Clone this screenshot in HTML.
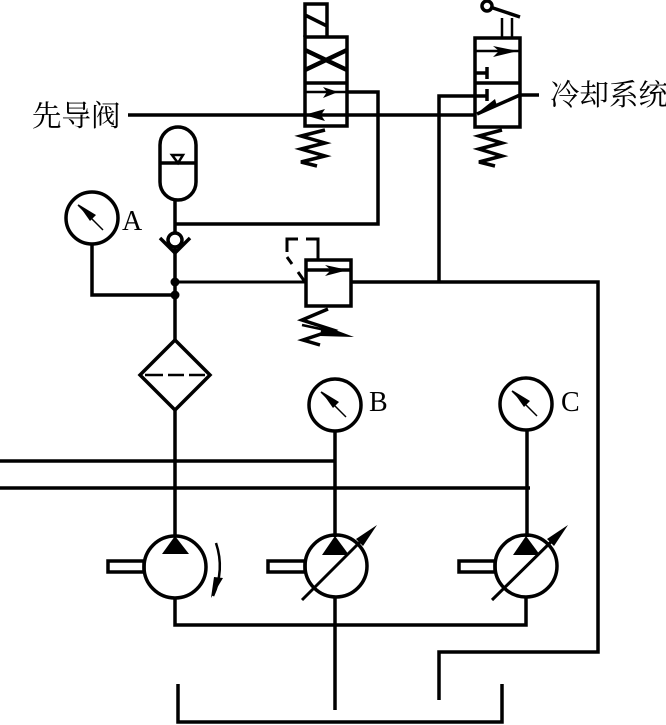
<!DOCTYPE html>
<html>
<head>
<meta charset="utf-8">
<style>
html,body{margin:0;padding:0;background:#fff;}
svg{display:block;}
.s{fill:none;stroke:#000;stroke-width:3.5;}
.t{fill:none;stroke:#000;stroke-width:2.5;}
.f{fill:#000;stroke:none;}
text{fill:#000;}
.cn{font-family:"Liberation Serif","Noto Serif CJK SC",serif;font-size:29.5px;}
.lt{font-family:"Liberation Serif",serif;font-size:28px;}
</style>
</head>
<body>
<svg width="666" height="725" viewBox="0 0 666 725" xmlns="http://www.w3.org/2000/svg">
<rect width="666" height="725" fill="#fff"/>

<!-- labels -->
<text class="cn" x="32" y="126">先导阀</text>
<text class="cn" x="550" y="105">冷却系统</text>
<text class="lt" x="122" y="230">A</text>
<text class="lt" x="369" y="411">B</text>
<text class="lt" x="561" y="411">C</text>

<!-- pilot line -->
<path class="s" d="M128 115H475"/>

<!-- solenoid valve -->
<rect class="s" x="305" y="37" width="42" height="89"/>
<path class="s" d="M305 83H347M305 15L327 26M327 37V4H305V37"/>
<path class="s" style="stroke-width:4.5" d="M305 50L347 70M305 70L347 50"/>
<path class="t" d="M305 92H347"/>
<path class="s" d="M347 92H378V224H175"/>
<path class="f" d="M323 87L338 92L323 98L327 92Z"/>
<path class="f" d="M304 115L325 109L321 115L325 121Z"/>
<path class="s" d="M325 130L301 136L325 143L301 149L325 156L301 162L317 166"/>

<!-- manual valve -->
<rect class="s" x="475" y="38" width="45" height="89"/>
<path class="s" d="M475 83H520"/>
<path class="t" d="M502 18V38M512 18V38"/>
<circle class="s" cx="487" cy="6" r="5"/>
<path class="s" d="M493 8L520 17"/>
<path class="t" d="M475 51H520"/>
<path class="f" d="M493 46L518 51L493 57L499 51Z"/>
<path class="s" d="M475 73H487M487 67V79"/>
<path class="s" d="M439 281V96H487M487 89V101"/>
<path class="s" d="M520 95H539M520 95L477 114"/>
<path class="f" d="M476 114L495 99L497 106Z"/>
<path class="s" d="M502 130L479 136L502 143L479 149L502 156L479 162L495 166"/>

<!-- accumulator -->
<rect class="s" x="160" y="127" width="36" height="73" rx="18" ry="18"/>
<path class="s" d="M160 163H196"/>
<path class="t" d="M172 155H183L178 163Z"/>

<!-- main vertical -->
<path class="s" d="M175 200V233M175 247V340"/>
<circle class="s" cx="175" cy="240" r="7"/>
<path class="s" d="M160 238L175 253L190 238"/>
<circle class="f" cx="175" cy="282" r="4.5"/>
<circle class="f" cx="175" cy="295" r="4.5"/>
<path class="t" style="stroke-width:3" d="M175 282H306"/>
<path class="s" d="M92 244V295H175"/>

<!-- gauge A -->
<circle class="s" cx="92" cy="218" r="26"/>
<path class="t" style="stroke-width:1.5" d="M78 205L103 230"/>
<path class="f" d="M78 204L96 215L90 221Z"/>

<!-- relief valve -->
<rect class="s" x="306" y="260" width="45" height="46"/>
<path class="s" d="M306 270H351"/>
<path class="f" d="M325 265L348 270L325 276L331 270Z"/>
<path class="t" style="stroke-width:3" d="M298 239H287V252M306 239H318V260M287 257L292 264M298 272L305 282"/>
<path class="s" d="M328 309L302 320L333 330L303 340L320 345"/>
<path class="t" d="M302 325L330 331"/>
<path class="f" d="M322 325L354 337L320 336Z"/>

<!-- return line -->
<path class="s" d="M351 282H598V652H439V700"/>

<!-- filter -->
<path class="s" d="M175 340L210 375L175 410L140 375Z"/>
<path class="t" d="M145 375H163M168 375H184M189 375H205"/>
<path class="s" d="M175 410V537"/>

<!-- pressure lines -->
<path class="s" d="M0 461H335M0 488H530"/>

<!-- gauge B -->
<circle class="s" cx="335" cy="405" r="26"/>
<path class="t" style="stroke-width:1.5" d="M321 392L346 417"/>
<path class="f" d="M321 391L339 402L333 408Z"/>
<path class="s" d="M335 431V537"/>

<!-- gauge C -->
<circle class="s" cx="526" cy="404" r="26"/>
<path class="t" style="stroke-width:1.5" d="M512 391L537 416"/>
<path class="f" d="M512 390L530 401L524 407Z"/>
<path class="s" d="M527 430V537"/>

<!-- pump A -->
<circle class="s" cx="175" cy="567" r="31"/>
<path class="f" d="M175 536L189 554H162Z"/>
<rect class="s" x="108" y="561" width="36" height="11"/>
<path class="t" d="M216 543Q225 570 213 596"/>
<path class="f" d="M211 598L214 577L223 578Z"/>

<!-- pump B -->
<circle class="s" cx="336" cy="566" r="31"/>
<path class="f" d="M335 536L349 555H322Z"/>
<rect class="s" x="268" y="561" width="37" height="11"/>
<path class="t" style="stroke-width:3" d="M302 600L368 534"/>
<path class="f" d="M377 525L356 539L363 546Z"/>

<!-- pump C -->
<circle class="s" cx="526" cy="566" r="31"/>
<path class="f" d="M526 536L540 555H513Z"/>
<rect class="s" x="459" y="561" width="36" height="11"/>
<path class="t" style="stroke-width:3" d="M492 600L559 534"/>
<path class="f" d="M568 525L547 539L554 546Z"/>

<!-- bottom -->
<path class="s" d="M175 598V625H526V597"/>
<path class="s" d="M335 597V710"/>
<path class="s" d="M178 684V722H502V684"/>
</svg>
</body>
</html>
